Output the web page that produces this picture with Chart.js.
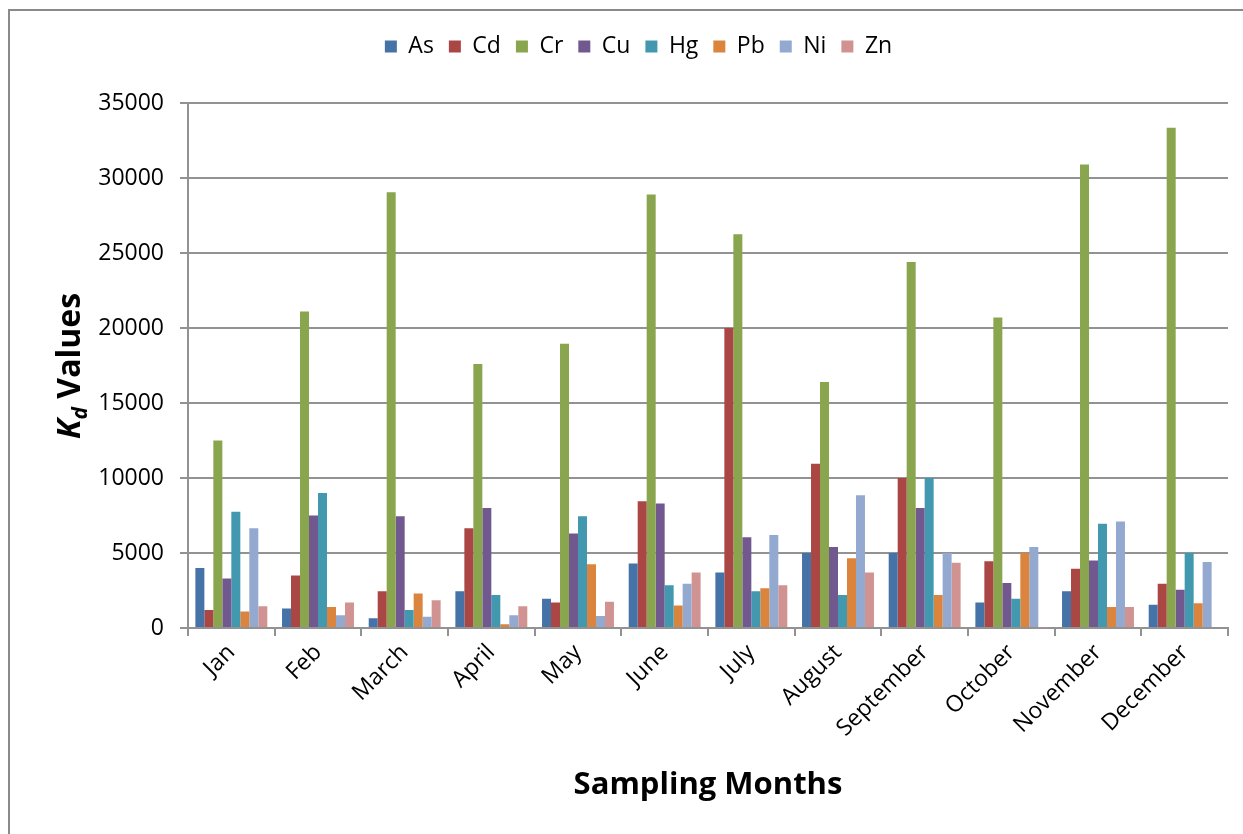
<!DOCTYPE html>
<html>
<head>
<meta charset="utf-8">
<title>Kd Values by Sampling Month</title>
<script src="https://cdn.jsdelivr.net/npm/chart.js@4.4.1/dist/chart.umd.min.js"></script>
<style>
    html, body { margin: 0; padding: 0; background: #fff; }
    #wrap { width: 1243px; height: 834px; }
</style>
</head>
<body>
<div id="wrap"><canvas id="kdChart" width="1243" height="834"></canvas></div>
<script>
// values
var months = ['Jan', 'Feb', 'March', 'April', 'May', 'June', 'July', 'August', 'September', 'October', 'November', 'December'];
var metals = ['As', 'Cd', 'Cr', 'Cu', 'Hg', 'Pb', 'Ni', 'Zn'];
var asVals = [4000, 1300, 650, 2450, 1950, 4300, 3700, 5000, 5000, 1700, 2450, 1550];
var cdVals = [1200, 3500, 2450, 6650, 1700, 8450, 20000, 10950, 10000, 4450, 3950, 2950];
var crVals = [12500, 21100, 29050, 17600, 18950, 28900, 26250, 16400, 24400, 20700, 30900, 33350];
var cuVals = [3300, 7500, 7450, 8000, 6300, 8300, 6050, 5400, 8000, 3000, 4500, 2550];
var hgVals = [7750, 9000, 1200, 2200, 7450, 2850, 2450, 2200, 10000, 1950, 6950, 5000];
var pbVals = [1100, 1400, 2300, 250, 4250, 1500, 2650, 4650, 2200, 5000, 1400, 1650];
var niVals = [6650, 850, 750, 850, 800, 2950, 6200, 8850, 5000, 5400, 7100, 4400];
var znVals = [1450, 1700, 1850, 1450, 1750, 3700, 2850, 3700, 4350, 40, 1400, 0];
var yMax = 35000;
var yStep = 5000;

var seriesVals = [asVals, cdVals, crVals, cuVals, hgVals, pbVals, niVals, znVals];
var seriesColors = ['#4572A7', '#AA4643', '#89A54E', '#71588F', '#4198AF', '#DB843D', '#93A9CF', '#D19392'];
var gridColor = '#929292';

Chart.defaults.font.family = '"Open Sans", "DejaVu Sans", sans-serif';
Chart.defaults.color = '#000';

// grey frame around the figure (only top and left edges are visible)
var framePlugin = {
    id: 'frame',
    beforeDraw: function (chart) {
        var ctx = chart.ctx;
        ctx.save();
        ctx.fillStyle = '#fff';
        ctx.fillRect(0, 0, chart.width, chart.height);
        ctx.strokeStyle = '#8a8a8a';
        ctx.lineWidth = 2;
        ctx.beginPath();
        ctx.moveTo(9, chart.height);
        ctx.lineTo(9, 10);
        ctx.lineTo(chart.width, 10);
        ctx.stroke();
        ctx.restore();
    }
};

// legend height is fixed so the plot starts where the reference does,
// and the legend row is nudged right to sit where Excel put it
var legendFixPlugin = {
    id: 'legendFix',
    beforeLayout: function (chart) {
        var lg = chart.legend;
        if (lg && !lg._fixedFit) {
            var origFit = lg.fit;
            lg.fit = function () {
                origFit.call(this);
                this.height = 103 - 20;
            };
            lg._fixedFit = true;
        }
    },
    afterLayout: function (chart) {
        var lg = chart.legend;
        if (lg) {
            lg.left += 20;
            lg.right += 20;
        }
    }
};

// y title needs an italic K with subscript d
var yTitlePlugin = {
    id: 'yTitle',
    afterDraw: function (chart) {
        var ctx = chart.ctx;
        var bigFont = 'italic bold 32px "Open Sans", sans-serif';
        var subFont = 'italic bold 21px "Open Sans", sans-serif';
        var restFont = 'bold 32px "Open Sans", sans-serif';
        ctx.save();
        ctx.font = bigFont;
        var wK = ctx.measureText('K').width;
        ctx.font = subFont;
        var wD = ctx.measureText('d').width;
        ctx.font = restFont;
        var wRest = ctx.measureText(' Values').width;
        var total = wK + wD + wRest;
        ctx.translate(80, 366);
        ctx.rotate(-Math.PI / 2);
        ctx.fillStyle = '#000';
        ctx.textBaseline = 'alphabetic';
        ctx.textAlign = 'left';
        var x = -total / 2;
        ctx.font = bigFont;
        ctx.fillText('K', x, 0);
        x += wK;
        ctx.font = subFont;
        ctx.fillText('d', x, 7);
        x += wD;
        ctx.font = restFont;
        ctx.fillText(' Values', x, 0);
        ctx.restore();
    }
};

var datasets = metals.map(function (m, i) {
    return {
        label: m,
        data: seriesVals[i],
        backgroundColor: seriesColors[i],
        borderWidth: 0,
        categoryPercentage: 0.83,
        barPercentage: 1.0
    };
});

new Chart(document.getElementById('kdChart').getContext('2d'), {
    type: 'bar',
    data: { labels: months, datasets: datasets },
    plugins: [framePlugin, legendFixPlugin, yTitlePlugin],
    options: {
        responsive: false,
        animation: false,
        devicePixelRatio: 1,
        layout: { padding: { left: 9, top: 20, right: 15, bottom: 0 } },
        plugins: {
            legend: {
                position: 'top',
                labels: {
                    boxWidth: 12,
                    boxHeight: 12,
                    padding: 15,
                    font: { size: 23 },
                    color: '#000'
                }
            },
            tooltip: { enabled: false }
        },
        scales: {
            x: {
                offset: true,
                grid: {
                    display: true,
                    drawOnChartArea: false,
                    drawTicks: true,
                    tickLength: 8,
                    offset: true,
                    color: gridColor,
                    lineWidth: 2
                },
                border: { display: true, color: gridColor, width: 2 },
                ticks: {
                    autoSkip: false,
                    maxRotation: 45,
                    minRotation: 45,
                    padding: 3,
                    font: { size: 23 },
                    color: '#000'
                },
                title: {
                    display: true,
                    text: 'Sampling Months',
                    font: { size: 31, weight: 'bold' },
                    color: '#000',
                    padding: { top: 0, bottom: 30 }
                },
                afterFit: function (scale) { scale.height = 834 - 628; }
            },
            y: {
                min: 0,
                max: yMax,
                grid: {
                    color: gridColor,
                    lineWidth: 2,
                    drawTicks: true,
                    tickLength: 8
                },
                border: { display: true, color: gridColor, width: 2 },
                ticks: {
                    stepSize: yStep,
                    padding: 16,
                    font: { size: 23 },
                    color: '#000',
                    callback: function (v) { return String(v); }
                },
                afterFit: function (scale) { scale.width = 188 - 9; }
            }
        }
    }
});
</script>
</body>
</html>
